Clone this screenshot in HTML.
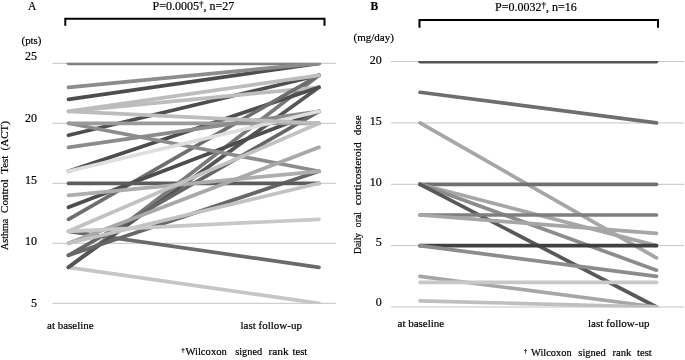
<!DOCTYPE html>
<html lang="en"><head><meta charset="utf-8"><title>Figure</title>
<style>html,body{margin:0;padding:0;background:#fff;}svg{display:block;}text{font-family:"Liberation Serif","Times New Roman",serif;fill:#000;stroke:#000;stroke-width:0.2px;}</style>
</head><body>
<svg width="685" height="360" viewBox="0 0 685 360">
<rect width="685" height="360" fill="#fff"/>
<defs>
<clipPath id="ca"><rect x="40" y="62.8" width="300" height="241"/></clipPath>
<clipPath id="cb"><rect x="385" y="61.1" width="300" height="246.4"/></clipPath>
<filter id="soft" x="-5%" y="-5%" width="110%" height="110%"><feGaussianBlur stdDeviation="0.45"/></filter>
</defs>
<g stroke="#c4c4c4" stroke-width="1">
<line x1="52.5" x2="336" y1="63.30" y2="63.30"/>
<line x1="52.5" x2="336" y1="123.30" y2="123.30"/>
<line x1="52.5" x2="336" y1="183.30" y2="183.30"/>
<line x1="52.5" x2="336" y1="243.30" y2="243.30"/>
<line x1="52.5" x2="336" y1="303.30" y2="303.30"/>
<line x1="391" x2="684" y1="61.60" y2="61.60"/>
<line x1="391" x2="684" y1="122.95" y2="122.95"/>
<line x1="391" x2="684" y1="184.30" y2="184.30"/>
<line x1="391" x2="684" y1="245.65" y2="245.65"/>
<line x1="391" x2="684" y1="307.00" y2="307.00"/>
</g>
<g clip-path="url(#ca)"><g filter="url(#soft)" stroke-width="3.7" stroke-linecap="round" fill="none">
<line x1="68.5" y1="267.30" x2="319.0" y2="303.30" stroke="#c6c6c6"/>
<line x1="68.5" y1="231.30" x2="319.0" y2="267.30" stroke="#6a6a6a"/>
<line x1="68.5" y1="63.30" x2="319.0" y2="63.30" stroke="#7f7f7f"/>
<line x1="68.5" y1="99.30" x2="319.0" y2="63.30" stroke="#4d4d4d"/>
<line x1="68.5" y1="87.30" x2="319.0" y2="63.30" stroke="#8c8c8c"/>
<line x1="68.5" y1="135.30" x2="319.0" y2="75.30" stroke="#4d4d4d"/>
<line x1="68.5" y1="267.30" x2="319.0" y2="75.30" stroke="#7a7a7a"/>
<line x1="68.5" y1="267.30" x2="319.0" y2="87.30" stroke="#555555"/>
<line x1="68.5" y1="111.30" x2="319.0" y2="87.30" stroke="#bdbdbd"/>
<line x1="68.5" y1="171.30" x2="319.0" y2="87.30" stroke="#4d4d4d"/>
<line x1="68.5" y1="219.30" x2="319.0" y2="75.30" stroke="#6e6e6e"/>
<line x1="68.5" y1="207.30" x2="319.0" y2="111.30" stroke="#4d4d4d"/>
<line x1="68.5" y1="255.30" x2="319.0" y2="111.30" stroke="#666666"/>
<line x1="68.5" y1="255.30" x2="319.0" y2="171.30" stroke="#666666"/>
<line x1="68.5" y1="123.30" x2="319.0" y2="171.30" stroke="#8c8c8c"/>
<line x1="68.5" y1="123.30" x2="319.0" y2="123.30" stroke="#9a9a9a"/>
<line x1="68.5" y1="183.30" x2="319.0" y2="183.30" stroke="#5c5c5c"/>
<line x1="68.5" y1="147.30" x2="319.0" y2="111.30" stroke="#8c8c8c"/>
<line x1="68.5" y1="195.30" x2="319.0" y2="171.30" stroke="#adadad"/>
<line x1="68.5" y1="171.30" x2="319.0" y2="111.30" stroke="#dedede"/>
<line x1="68.5" y1="243.30" x2="319.0" y2="147.30" stroke="#a8a8a8"/>
<line x1="68.5" y1="243.30" x2="319.0" y2="183.30" stroke="#c2c2c2"/>
<line x1="68.5" y1="231.30" x2="319.0" y2="123.30" stroke="#c2c2c2"/>
<line x1="68.5" y1="231.30" x2="319.0" y2="219.30" stroke="#c8c8c8"/>
<line x1="68.5" y1="111.30" x2="319.0" y2="123.30" stroke="#bdbdbd"/>
<line x1="68.5" y1="111.30" x2="319.0" y2="75.30" stroke="#bdbdbd"/>
</g></g>
<g clip-path="url(#cb)"><g filter="url(#soft)" stroke-width="3.7" stroke-linecap="round" fill="none">
<line x1="420.0" y1="61.60" x2="656.5" y2="61.60" stroke="#595959"/>
<line x1="420.0" y1="92.28" x2="656.5" y2="122.95" stroke="#6e6e6e"/>
<line x1="420.0" y1="122.95" x2="656.5" y2="257.92" stroke="#a6a6a6"/>
<line x1="420.0" y1="184.30" x2="656.5" y2="184.30" stroke="#707070"/>
<line x1="420.0" y1="184.30" x2="656.5" y2="245.65" stroke="#a6a6a6"/>
<line x1="420.0" y1="184.30" x2="656.5" y2="270.19" stroke="#8c8c8c"/>
<line x1="420.0" y1="184.30" x2="656.5" y2="307.00" stroke="#595959"/>
<line x1="420.0" y1="214.98" x2="656.5" y2="214.98" stroke="#7f7f7f"/>
<line x1="420.0" y1="214.98" x2="656.5" y2="233.38" stroke="#a6a6a6"/>
<line x1="420.0" y1="245.65" x2="656.5" y2="245.65" stroke="#404040"/>
<line x1="420.0" y1="245.65" x2="656.5" y2="276.32" stroke="#8c8c8c"/>
<line x1="420.0" y1="276.32" x2="656.5" y2="307.00" stroke="#a6a6a6"/>
<line x1="420.0" y1="282.46" x2="656.5" y2="282.46" stroke="#c8c8c8"/>
<line x1="420.0" y1="300.87" x2="656.5" y2="307.00" stroke="#bfbfbf"/>
</g></g>
<g stroke="#000" stroke-width="2" fill="none" stroke-linejoin="miter">
<polyline points="65.3,25.8 65.3,18.8 324.5,18.8 324.5,25.8"/>
<polyline points="419.5,27.8 419.5,19.9 658,19.9 658,27.8"/>
</g>
<g font-size="12">
<text x="152.5" y="10.3">P=0.0005<tspan font-size="9" dy="-3.5">†</tspan><tspan dy="3.5">, n=27</tspan></text>
<text x="495" y="11">P=0.0032<tspan font-size="9" dy="-3.5">†</tspan><tspan dy="3.5">, n=16</tspan></text>
</g>
<text x="28" y="9.7" font-size="11.5">A</text>
<text x="370.5" y="9.7" font-size="11.5" font-weight="bold">B</text>
<text x="21.5" y="43.9" font-size="10.9">(pts)</text>
<text x="353.5" y="41.2" font-size="11">(mg/day)</text>
<g font-size="12" text-anchor="end">
<text x="37" y="60.2">25</text>
<text x="37" y="122">20</text>
<text x="37" y="184.1">15</text>
<text x="37" y="244.8">10</text>
<text x="37" y="306.7">5</text>
<text x="381.7" y="64.3">20</text>
<text x="381.7" y="125">15</text>
<text x="381.7" y="186.2">10</text>
<text x="381.7" y="245.6">5</text>
<text x="381.7" y="305.8">0</text>
</g>
<g font-size="11">
<text x="47" y="328.5">at baseline</text>
<text x="240.5" y="328.5">last follow-up</text>
<text x="397.5" y="327.2">at baseline</text>
<text x="588" y="327.2">last follow-up</text>
<text x="181.2" y="351.8" font-size="7">†</text>
<text x="185.4" y="355.2" font-size="11" textLength="41.4" lengthAdjust="spacingAndGlyphs">Wilcoxon</text>
<text x="235.2" y="355.2" font-size="11" textLength="27.0" lengthAdjust="spacingAndGlyphs">signed</text>
<text x="268.4" y="355.2" font-size="11" textLength="20.4" lengthAdjust="spacingAndGlyphs">rank</text>
<text x="292.5" y="355.2" font-size="11" textLength="14.7" lengthAdjust="spacingAndGlyphs">test</text>
<text x="523.8" y="352.6" font-size="7">†</text>
<text x="531.0" y="356.0" font-size="11" textLength="40.6" lengthAdjust="spacingAndGlyphs">Wilcoxon</text>
<text x="578.3" y="356.0" font-size="11" textLength="27.5" lengthAdjust="spacingAndGlyphs">signed</text>
<text x="612.4" y="356.0" font-size="11" textLength="19.0" lengthAdjust="spacingAndGlyphs">rank</text>
<text x="637.0" y="356.0" font-size="11" textLength="14.8" lengthAdjust="spacingAndGlyphs">test</text>
</g>
<text transform="translate(8,250.0) rotate(-90)" font-size="10.5" textLength="31.2" lengthAdjust="spacingAndGlyphs">Asthma</text>
<text transform="translate(8,212.9) rotate(-90)" font-size="10.5" textLength="33.6" lengthAdjust="spacingAndGlyphs">Control</text>
<text transform="translate(8,173.8) rotate(-90)" font-size="10.5" textLength="18.2" lengthAdjust="spacingAndGlyphs">Test</text>
<text transform="translate(8,150.4) rotate(-90)" font-size="10.5" textLength="29.2" lengthAdjust="spacingAndGlyphs">(ACT)</text>
<text transform="translate(361,253.9) rotate(-90)" font-size="10.5" textLength="21.0" lengthAdjust="spacingAndGlyphs">Daily</text>
<text transform="translate(361,227.2) rotate(-90)" font-size="10.5" textLength="15.2" lengthAdjust="spacingAndGlyphs">oral</text>
<text transform="translate(361,205.2) rotate(-90)" font-size="10.5" textLength="62.8" lengthAdjust="spacingAndGlyphs">corticosteroid</text>
<text transform="translate(361,135.2) rotate(-90)" font-size="10.5" textLength="19.8" lengthAdjust="spacingAndGlyphs">dose</text>
</svg>
</body></html>
